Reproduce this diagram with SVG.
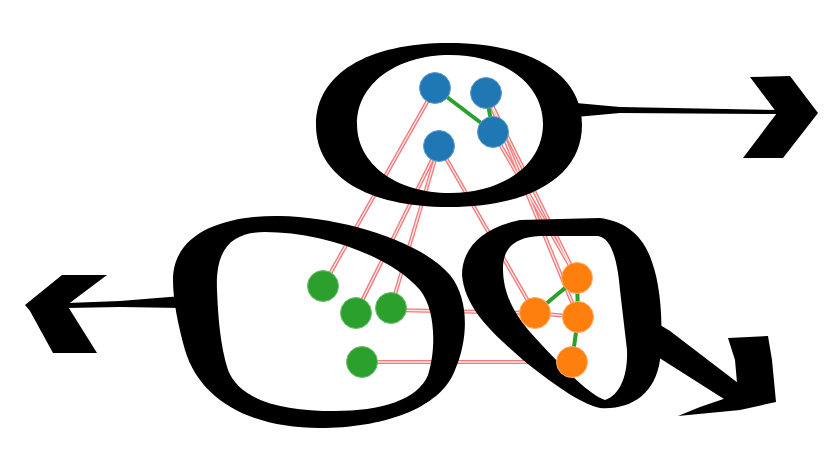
<svg xmlns="http://www.w3.org/2000/svg" width="840" height="454" viewBox="0 0 840 454">
  <style>
    .e { stroke: #ef7b7b; stroke-width: 4; fill: none; }
    .ei { stroke: #fde4e4; stroke-width: 1.4; fill: none; }
    .g { stroke: #2ca02c; stroke-width: 4; fill: none; }
    .ink { fill: #000; fill-rule: evenodd; }
    .b { fill: #1f77b4; stroke: #5f9dcc; stroke-width: 1; }
    .gr { fill: #2ca02c; stroke: #6cbf6c; stroke-width: 1; }
    .o { fill: #ff7f0e; stroke: #ffad66; stroke-width: 1; }
  </style>
  <defs>
    <g id="redlines">
      <line x1="435" y1="88" x2="323" y2="286"/>
      <line x1="439" y1="146" x2="356" y2="313"/>
      <line x1="439" y1="146" x2="391" y2="308"/>
      <line x1="439" y1="146" x2="535" y2="313"/>
      <line x1="493" y1="132" x2="577" y2="278"/>
      <line x1="486" y1="93" x2="577" y2="278"/>
      <line x1="486" y1="93" x2="578" y2="317"/>
      <line x1="391" y1="310" x2="535" y2="313"/>
      <line x1="362" y1="362" x2="572" y2="362"/>
      <line x1="535" y1="313" x2="578" y2="317"/>
    </g>
  </defs>
  <rect width="840" height="454" fill="#fff"/>

  <g id="connectors">
    <use href="#redlines" class="e"/>
    <use href="#redlines" class="ei"/>
  </g>

  <g id="cluster-top">
    <path class="ink" d="M316,125 C316,74 367,43 449,43 C531,43 582,74 582,125 C582,176 531,207 449,207 C367,207 316,176 316,125 Z M357,124 C357,84 396,55 450,55 C504,55 543,84 543,124 C543,164 504,193 450,193 C396,193 357,164 357,124 Z"/>
    <path class="ink" d="M576,103 L620,107 L780,110 L780,114 L620,113 L576,117 Z"/>
    <path class="ink" d="M750,77 L790,76 L818,113 L783,158 L743,158 L777,113 Z"/>
  </g>

  <g id="cluster-left">
    <path class="ink" d="M173,280 C173,230 230,215 280,216 C340,217 420,240 450,275 C470,300 468,340 455,370 C440,410 380,428 320,428 C250,428 200,400 185,350 C178,325 173,300 173,280 Z M217,290 C215,245 235,232 265,232 C320,232 390,255 420,290 C436,310 436,350 428,375 C418,400 380,411 335,411 C280,411 240,400 228,370 C220,345 218,315 217,290 Z"/>
    <path class="ink" d="M182,296 L120,301 L67,303 L67,308 L120,307 L182,308 Z"/>
    <path class="ink" d="M107,275 L62,275 L25,305 L30,311 L53,353 L97,353 L67,305 Z"/>
  </g>

  <g id="cluster-right">
    <path class="ink" d="M462,275 C462,250 480,228 520,220 L600,218 C630,222 645,240 652,262 C662,290 663,330 660,360 C655,395 630,410 600,408 C585,405 560,390 523,360 C495,335 465,310 462,275 Z M503,268 C503,248 515,237 540,236 L598,236 C610,238 617,255 620,290 L627,350 C628,375 620,395 605,400 C590,395 565,370 540,343 C520,322 503,300 503,268 Z"/>
    <path class="ink" d="M652,320 L670,331 L742,386 L735,406 L650,352 Z"/>
    <path class="ink" d="M728,338 L768,336 L772,360 L776,402 L740,410 L678,416 L700,407 L738,394 L735,360 Z"/>
  </g>

  <g id="inner-edges">
    <line class="g" x1="435" y1="88" x2="493" y2="132"/>
    <line class="g" x1="486" y1="93" x2="493" y2="132"/>
    <line class="g" x1="577" y1="278" x2="535" y2="313"/>
    <line class="g" x1="577" y1="278" x2="578" y2="317"/>
    <line class="g" x1="578" y1="317" x2="572" y2="362"/>
  </g>

  <g id="b1"><circle class="b" cx="435" cy="88" r="15.5"/></g>
  <g id="b2"><circle class="b" cx="486" cy="93" r="15.5"/></g>
  <g id="b3"><circle class="b" cx="493" cy="132" r="15.5"/></g>
  <g id="b4"><circle class="b" cx="439" cy="146" r="15.5"/></g>

  <g id="g1"><circle class="gr" cx="323" cy="286" r="15.5"/></g>
  <g id="g2"><circle class="gr" cx="356" cy="313" r="15.5"/></g>
  <g id="g3"><circle class="gr" cx="391" cy="308" r="15.5"/></g>
  <g id="g4"><circle class="gr" cx="362" cy="362" r="15.5"/></g>

  <g id="o1"><circle class="o" cx="577" cy="278" r="15.5"/></g>
  <g id="o2"><circle class="o" cx="535" cy="313" r="15.5"/></g>
  <g id="o3"><circle class="o" cx="578" cy="317" r="15.5"/></g>
  <g id="o4"><circle class="o" cx="572" cy="362" r="15.5"/></g>
</svg>
